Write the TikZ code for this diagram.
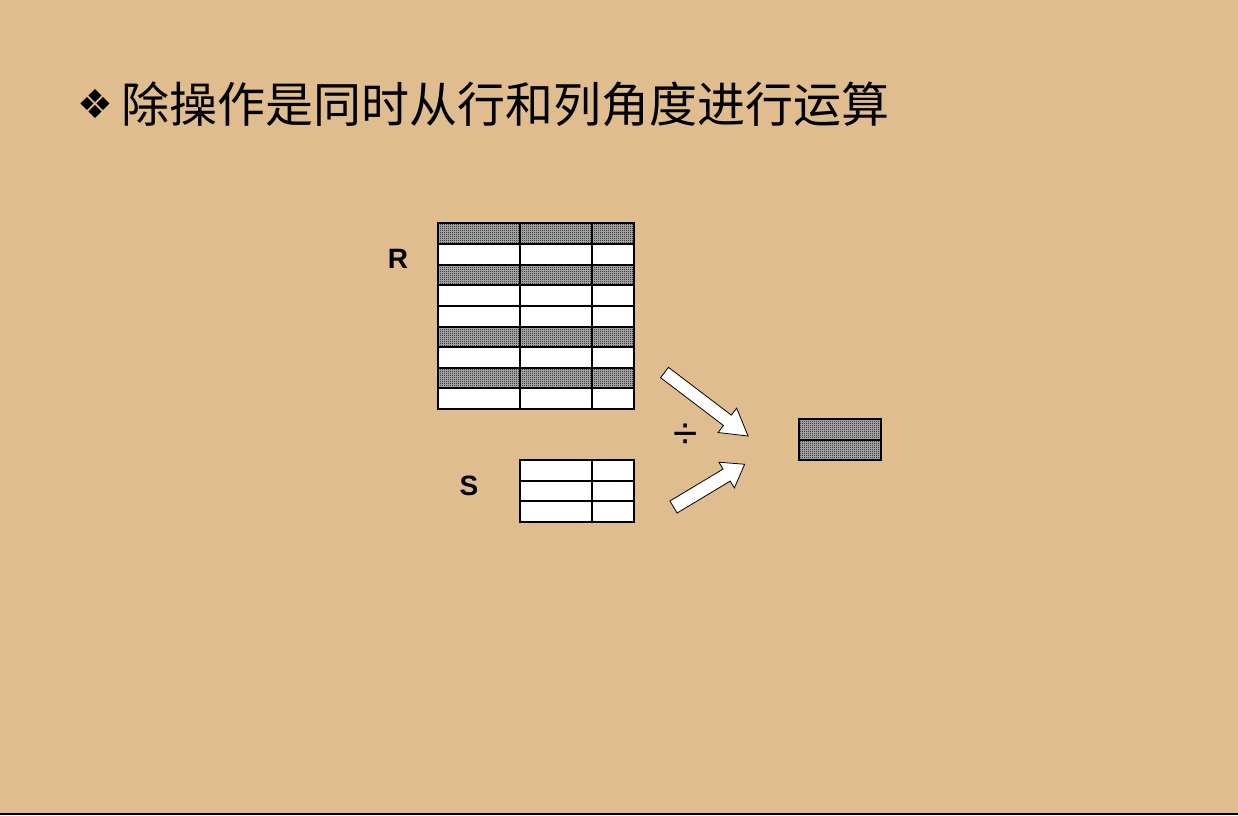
\documentclass[tikz,border=0pt]{standalone}
\usepackage{fontspec}
\setmainfont{Liberation Sans}
\newfontfamily\cjk{Noto Sans CJK SC}
\newfontfamily\dejavu{DejaVu Sans}
\usetikzlibrary{patterns}
\pgfdeclarepatternformonly{dith}{\pgfpointorigin}{\pgfpoint{2pt}{2pt}}{\pgfpoint{2pt}{2pt}}{%
  \pgfpathrectangle{\pgfpointorigin}{\pgfpoint{1pt}{1pt}}%
  \pgfpathrectangle{\pgfpoint{1pt}{1pt}}{\pgfpoint{1pt}{1pt}}%
  \pgfusepath{fill}}
\definecolor{parch}{RGB}{223,189,143}
\begin{document}
\begin{tikzpicture}[x=1pt,y=-1pt,
  gridline/.style={draw=black,line width=1.2pt},
  shadedrow/.style={preaction={fill=gray!55!white},pattern=dith,pattern color=black},
  plainrow/.style={fill=white},
  blockarrow/.style={fill=white,draw=black,line width=0.8pt,line join=miter},
  lbl/.style={font=\bfseries\fontsize{28}{28}\selectfont}]
\useasboundingbox (0,0) rectangle (1238,815);
\fill[parch] (0,0) rectangle (1238,815);
\fill[black] (0,812.5) rectangle (1238,815);
% title
\node[font=\dejavu\fontsize{40}{40}\selectfont,inner sep=0pt] (bullet) at (95,104) {❖};
\node[anchor=west,font=\cjk\fontsize{48}{48}\selectfont,inner sep=0pt] (title) at (121,104) {除操作是同时从行和列角度进行运算};
% R table
\foreach \ya/\yb/\st in {223/244/shadedrow,244/265/plainrow,265/285/shadedrow,285/306/plainrow,306/327/plainrow,327/347/shadedrow,347/368/plainrow,368/388/shadedrow,388/409/plainrow}
  \path[\st] (438,\ya) rectangle (634,\yb);
\foreach \y in {244,265,285,306,327,347,368,388} \draw[gridline] (438,\y) -- (634,\y);
\draw[gridline] (520,223) -- (520,409) (592,223) -- (592,409);
\draw[gridline] (438,223) rectangle (634,409);
\node[lbl] (rlabel) at (398,259) {R};
% S table
\path[plainrow] (520,460) rectangle (634,522);
\draw[gridline] (520,481) -- (634,481) (520,501) -- (634,501) (592,460) -- (592,522);
\draw[gridline] (520,460) rectangle (634,522);
\node[lbl] (slabel) at (469,486) {S};
% division sign
\node[font=\fontsize{44}{44}\selectfont,inner sep=0pt] (div) at (686,436) {÷};
% arrows
\begin{scope}[shift={(664.5,372.5)},rotate=-37.25]
  \draw[blockarrow] (0,-6.5) -- (79,-6.5) -- (79,-15.3) -- (105,0) -- (79,15.3) -- (79,6.5) -- (0,6.5) -- cycle;
\end{scope}
\begin{scope}[shift={(673.5,507)},rotate=31]
  \draw[blockarrow] (0,-7) -- (62,-7) -- (62,-15) -- (83,0) -- (62,15) -- (62,7) -- (0,7) -- cycle;
\end{scope}
% result table
\path[shadedrow] (799,419) rectangle (881,460);
\draw[gridline] (799,440) -- (881,440);
\draw[gridline] (799,419) rectangle (881,460);
\end{tikzpicture}
\end{document}
